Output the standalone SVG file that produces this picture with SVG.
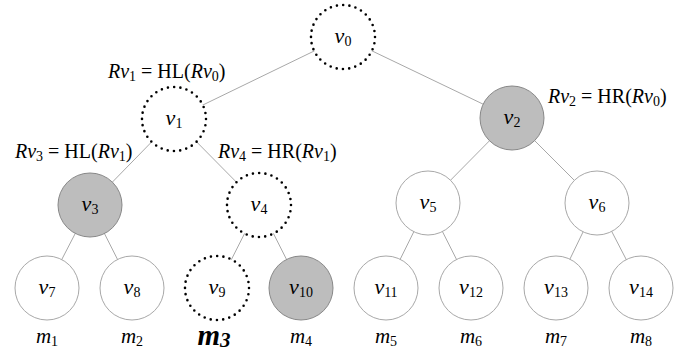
<svg xmlns="http://www.w3.org/2000/svg" width="682" height="351" viewBox="0 0 682 351" font-family="'Liberation Serif', 'Times New Roman', serif">
<style>
text{font-family:'Liberation Serif','Times New Roman',serif;fill:#000}
.lbl{font-size:22px;font-style:italic;text-anchor:middle}
.s{font-size:14px;font-style:normal}
.eq{font-size:20px}
.i{font-style:italic}
.plain{fill:#fff;stroke:#a8a8a8;stroke-width:1}
.shade{fill:#bdbdbd;stroke:#888;stroke-width:1}
.dot{fill:#fff;stroke:#000;stroke-width:2.6;stroke-dasharray:0 6.28;stroke-linecap:round}
.edge{stroke:#a8a8a8;stroke-width:1;fill:none}
.m{font-size:21px;font-style:italic;text-anchor:middle}
</style>
<g id="connectors">
<line class="edge" x1="343" y1="37" x2="174" y2="119"/>
<line class="edge" x1="343" y1="37" x2="512" y2="118"/>
<line class="edge" x1="174" y1="119" x2="90" y2="205"/>
<line class="edge" x1="174" y1="119" x2="259" y2="205"/>
<line class="edge" x1="512" y1="118" x2="428" y2="203"/>
<line class="edge" x1="512" y1="118" x2="597" y2="203"/>
<line class="edge" x1="90" y1="205" x2="47" y2="288"/>
<line class="edge" x1="90" y1="205" x2="132" y2="288"/>
<line class="edge" x1="259" y1="205" x2="217" y2="288"/>
<line class="edge" x1="259" y1="205" x2="301" y2="288"/>
<line class="edge" x1="428" y1="203" x2="386" y2="288"/>
<line class="edge" x1="428" y1="203" x2="471" y2="288"/>
<line class="edge" x1="597" y1="203" x2="556" y2="288"/>
<line class="edge" x1="597" y1="203" x2="641" y2="288"/>
</g>
<g id="v0"><circle class="dot" cx="343" cy="37" r="32"/><text class="lbl" x="343" y="43">v<tspan class="s" dy="3">0</tspan></text></g>
<g id="v1"><circle class="dot" cx="174" cy="119" r="32"/><text class="lbl" x="174" y="125">v<tspan class="s" dy="3">1</tspan></text></g>
<g id="v2"><circle class="shade" cx="512" cy="118" r="32"/><text class="lbl" x="512" y="124">v<tspan class="s" dy="3">2</tspan></text></g>
<g id="v3"><circle class="shade" cx="90" cy="205" r="32"/><text class="lbl" x="90" y="211">v<tspan class="s" dy="3">3</tspan></text></g>
<g id="v4"><circle class="dot" cx="259" cy="205" r="32"/><text class="lbl" x="259" y="211">v<tspan class="s" dy="3">4</tspan></text></g>
<g id="v5"><circle class="plain" cx="428" cy="203" r="32"/><text class="lbl" x="428" y="209">v<tspan class="s" dy="3">5</tspan></text></g>
<g id="v6"><circle class="plain" cx="597" cy="203" r="32"/><text class="lbl" x="597" y="209">v<tspan class="s" dy="3">6</tspan></text></g>
<g id="v7"><circle class="plain" cx="47" cy="288" r="32"/><text class="lbl" x="47" y="294">v<tspan class="s" dy="3">7</tspan></text></g>
<g id="v8"><circle class="plain" cx="132" cy="288" r="32"/><text class="lbl" x="132" y="294">v<tspan class="s" dy="3">8</tspan></text></g>
<g id="v9"><circle class="dot" cx="217" cy="288" r="32"/><text class="lbl" x="217" y="294">v<tspan class="s" dy="3">9</tspan></text></g>
<g id="v10"><circle class="shade" cx="301" cy="288" r="32"/><text class="lbl" x="301" y="294">v<tspan class="s" dy="3">10</tspan></text></g>
<g id="v11"><circle class="plain" cx="386" cy="288" r="32"/><text class="lbl" x="386" y="294">v<tspan class="s" dy="3">11</tspan></text></g>
<g id="v12"><circle class="plain" cx="471" cy="288" r="32"/><text class="lbl" x="471" y="294">v<tspan class="s" dy="3">12</tspan></text></g>
<g id="v13"><circle class="plain" cx="556" cy="288" r="32"/><text class="lbl" x="556" y="294">v<tspan class="s" dy="3">13</tspan></text></g>
<g id="v14"><circle class="plain" cx="641" cy="288" r="32"/><text class="lbl" x="641" y="294">v<tspan class="s" dy="3">14</tspan></text></g>
<g id="labels">
<text class="eq" x="108" y="78"><tspan class="i">Rv</tspan><tspan class="s" dy="3">1</tspan><tspan dy="-3"> = HL(</tspan><tspan class="i">Rv</tspan><tspan class="s" dy="3">0</tspan><tspan dy="-3">)</tspan></text>
<text class="eq" x="15" y="158"><tspan class="i">Rv</tspan><tspan class="s" dy="3">3</tspan><tspan dy="-3"> = HL(</tspan><tspan class="i">Rv</tspan><tspan class="s" dy="3">1</tspan><tspan dy="-3">)</tspan></text>
<text class="eq" x="218" y="158"><tspan class="i">Rv</tspan><tspan class="s" dy="3">4</tspan><tspan dy="-3"> = HR(</tspan><tspan class="i">Rv</tspan><tspan class="s" dy="3">1</tspan><tspan dy="-3">)</tspan></text>
<text class="eq" x="548" y="103"><tspan class="i">Rv</tspan><tspan class="s" dy="3">2</tspan><tspan dy="-3"> = HR(</tspan><tspan class="i">Rv</tspan><tspan class="s" dy="3">0</tspan><tspan dy="-3">)</tspan></text>
<text class="m" x="47" y="343">m<tspan class="s" dy="3">1</tspan></text>
<text class="m" x="132" y="343">m<tspan class="s" dy="3">2</tspan></text>
<text class="m" x="214" y="345" style="font-size:29px;font-weight:bold">m<tspan dy="2" style="font-size:21px;font-style:italic">3</tspan></text>
<text class="m" x="301" y="343">m<tspan class="s" dy="3">4</tspan></text>
<text class="m" x="386" y="343">m<tspan class="s" dy="3">5</tspan></text>
<text class="m" x="471" y="343">m<tspan class="s" dy="3">6</tspan></text>
<text class="m" x="556" y="343">m<tspan class="s" dy="3">7</tspan></text>
<text class="m" x="641" y="343">m<tspan class="s" dy="3">8</tspan></text>
</g>
</svg>
